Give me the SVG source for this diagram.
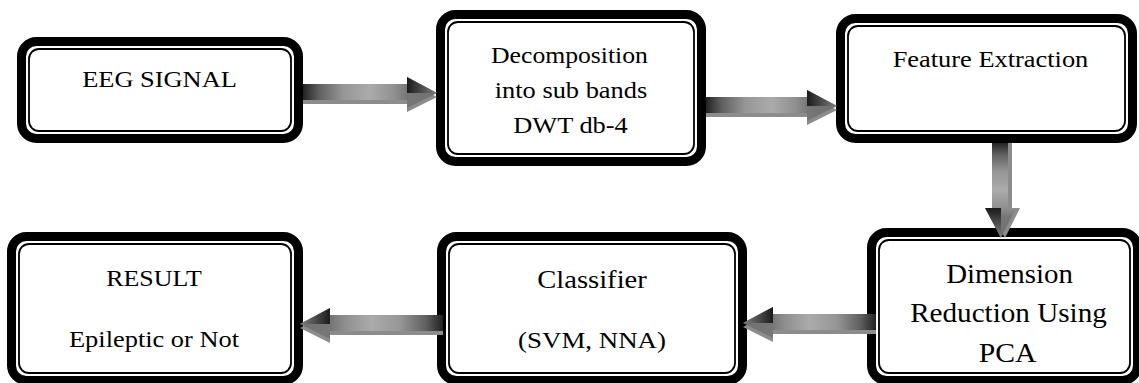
<svg xmlns="http://www.w3.org/2000/svg" width="1139" height="383" viewBox="0 0 1139 383">
  <defs>
    <!-- shaded body of the block arrows, dark at the tail, light in the middle -->
    <linearGradient id="shaft" x1="0" y1="0" x2="1" y2="0">
      <stop offset="0" stop-color="#222"/>
      <stop offset="0.12" stop-color="#606060"/>
      <stop offset="0.3" stop-color="#969696"/>
      <stop offset="0.5" stop-color="#ababab"/>
      <stop offset="0.68" stop-color="#909090"/>
      <stop offset="0.78" stop-color="#767676"/>
      <stop offset="1" stop-color="#707070"/>
    </linearGradient>
    <!-- dark upper facet of the arrowhead -->
    <linearGradient id="headTop" x1="0" y1="0" x2="1" y2="0">
      <stop offset="0" stop-color="#1a1a1a"/>
      <stop offset="1" stop-color="#808080"/>
    </linearGradient>
  </defs>
  <style>
    .outer { fill: #fff; stroke: #000; stroke-width: 9; }
    .inner { fill: none; stroke: #000; stroke-width: 1.8; }
    .label { font-family: "Liberation Serif", "Times New Roman", serif; font-size: 24px; fill: #000; text-anchor: middle; }
    .big { font-size: 26.5px; }
    .shadow { fill: #8c8c8c; }
    .body { fill: url(#shaft); }
    .facet { fill: url(#headTop); }
  </style>

  <rect width="1139" height="383" fill="#fff"/>

  <!-- process blocks: thick outer frame with a thin inner rule; labels are set slightly wide -->
  <g id="eeg-signal">
    <rect class="outer" x="21.5" y="41.5" width="277" height="97" rx="15"/>
    <rect class="inner" x="29" y="49" width="262" height="82" rx="10"/>
    <text class="label" transform="translate(159.5,87) scale(1.1,1)">EEG SIGNAL</text>
  </g>

  <g id="decomposition">
    <rect class="outer" x="440.5" y="14.5" width="261" height="147" rx="15"/>
    <rect class="inner" x="448" y="22" width="246" height="132" rx="10"/>
    <text class="label" transform="translate(569.5,63) scale(1.07,1)">Decomposition</text>
    <text class="label" transform="translate(571,98) scale(1.1,1)">into sub bands</text>
    <text class="label" transform="translate(570.5,133) scale(1.1,1)">DWT db-4</text>
  </g>

  <g id="feature-extraction">
    <rect class="outer" x="840.5" y="18.5" width="292" height="120" rx="15"/>
    <rect class="inner" x="848" y="26" width="277" height="105" rx="10"/>
    <text class="label" transform="translate(990.5,67) scale(1.1,1)">Feature Extraction</text>
  </g>

  <g id="dimension-reduction">
    <rect class="outer" x="871.5" y="232.5" width="266" height="148" rx="15"/>
    <rect class="inner" x="879" y="240" width="251" height="133" rx="10"/>
    <text class="label big" transform="translate(1009.5,283) scale(1.09,1)">Dimension</text>
    <text class="label big" transform="translate(1008.5,322) scale(1.1,1)">Reduction Using</text>
    <text class="label big" transform="translate(1007.5,362) scale(1.12,1)">PCA</text>
  </g>

  <g id="classifier">
    <rect class="outer" x="441.5" y="236.5" width="301" height="144" rx="15"/>
    <rect class="inner" x="449" y="244" width="286" height="129" rx="10"/>
    <text class="label" style="font-size:26px" transform="translate(592,288) scale(1.1,1)">Classifier</text>
    <text class="label" transform="translate(592,348) scale(1.12,1)">(SVM, NNA)</text>
  </g>

  <g id="result">
    <rect class="outer" x="11.5" y="236.5" width="287" height="144" rx="15"/>
    <rect class="inner" x="19" y="244" width="272" height="129" rx="10"/>
    <text class="label" transform="translate(154,286) scale(1.08,1)">RESULT</text>
    <text class="label" transform="translate(154,347) scale(1.1,1)">Epileptic or Not</text>
  </g>

  <!-- shaded block arrows between the stages -->
  <g id="connectors">
    <g transform="translate(303,93)">
      <polygon class="shadow" points="0,-5 104,-5 104,-12 134,4 104,19 104,11 0,11"/>
      <polygon class="body" points="0,-9 104,-9 104,-16 134,0 104,15 104,7 0,7"/>
      <polygon class="facet" points="104,-16 134,0 104,0"/>
    </g>
    <g transform="translate(706,106)">
      <polygon class="shadow" points="0,-5 101,-5 101,-12 131,4 101,19 101,11 0,11"/>
      <polygon class="body" points="0,-9 101,-9 101,-16 131,0 101,15 101,7 0,7"/>
      <polygon class="facet" points="101,-16 131,0 101,0"/>
    </g>
    <g transform="translate(1001,143) rotate(90) scale(1,-1)">
      <polygon class="shadow" points="0,-5 65,-5 65,-12 95,4 65,19 65,11 0,11"/>
      <polygon class="body" points="0,-9 65,-9 65,-16 95,0 65,15 65,7 0,7"/>
      <polygon class="facet" points="65,-16 95,0 65,0"/>
    </g>
    <g transform="translate(876,323) scale(-1,1)">
      <polygon class="shadow" points="0,-5 103,-5 103,-12 133,4 103,19 103,11 0,11"/>
      <polygon class="body" points="0,-9 103,-9 103,-16 133,0 103,15 103,7 0,7"/>
      <polygon class="facet" points="103,-16 133,0 103,0"/>
    </g>
    <g transform="translate(443,324) scale(-1,1)">
      <polygon class="shadow" points="0,-5 113,-5 113,-12 143,4 113,19 113,11 0,11"/>
      <polygon class="body" points="0,-9 113,-9 113,-16 143,0 113,15 113,7 0,7"/>
      <polygon class="facet" points="113,-16 143,0 113,0"/>
    </g>
  </g>
</svg>
